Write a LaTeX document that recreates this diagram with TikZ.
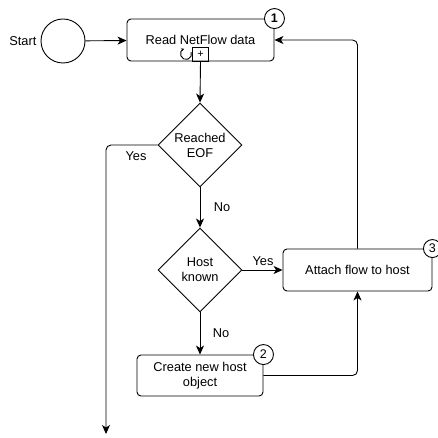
\documentclass[tikz,border=0pt]{standalone}
\usepackage{fontspec}
\setmainfont{Liberation Sans}
\usetikzlibrary{arrows.meta,positioning,calc,shapes.geometric}
\tikzset{
  task/.style={draw, line width=0.9pt, rounded corners=4pt, align=center,
               inner sep=2pt, font=\fontsize{12.8}{15}\selectfont},
  decision/.style={draw, line width=0.9pt, diamond, aspect=1, inner sep=0pt,
               minimum width=84pt, minimum height=84pt, align=center,
               font=\fontsize{12.8}{15}\selectfont},
  badge/.style={draw, fill=white, circle, line width=0.9pt, minimum size=20pt,
               inner sep=0pt, font=\fontsize{12.5}{12.5}\selectfont},
  flowlabel/.style={font=\fontsize{12.8}{15}\selectfont, inner sep=1pt},
  flowarrow/.style={-{Stealth[length=9pt,width=8pt,inset=2.5pt]}, line width=0.9pt,
               rounded corners=5pt}
}

\begin{document}
\begin{tikzpicture}[x=1pt,y=-1pt]
\useasboundingbox[fill=white] (0,0) rectangle (438,438);

% events and tasks
\node[draw, circle, line width=0.9pt, minimum size=44pt] (start) at (63,41) {};
\node[flowlabel, left=3pt of start] (startlbl) {Start};
\node[task, minimum width=147pt, minimum height=42pt] (read) at (200.5,40) {Read NetFlow data};
\node[decision] (eof) at (200,145) {Reached\\EOF};
\node[decision] (known) at (200,270) {Host\\known};
\node[task, minimum width=149pt, minimum height=42pt] (attach) at (357.5,270) {Attach flow to host};
\node[task, minimum width=126pt, minimum height=41pt] (create) at (200,375.5) {Create new host\\object};
\coordinate (done) at (106,434);

% markers
\node[badge, font=\bfseries\fontsize{12.5}{12.5}\selectfont] (b1) at (read.north east) {1};
\node[badge] (b2) at (create.north east) {2};
\node[badge, minimum size=18pt] (b3) at (attach.north east) {3};
\node[draw, line width=0.9pt, minimum width=16pt, minimum height=14pt, inner sep=0pt,
      anchor=south, font=\fontsize{11}{11}\selectfont] (plus) at (read.south) {+};
\draw[line width=0.9pt, -{Stealth[length=3pt,width=3pt]}]
  ($(plus.west)+(-6,0)$) ++(-20:5.5) arc[start angle=-20, end angle=250, radius=5.5];

% connectors
\draw[flowarrow] (start) -- (read);
\draw[flowarrow] (plus.south) -- (eof.north);
\draw[flowarrow] (eof.west) -| (done);
\draw[flowarrow] (eof.south) -- (known.north);
\draw[flowarrow] (known.east) -- (attach.west);
\draw[flowarrow] (known.south) -- (create.north);
\draw[flowarrow] (create.east) -| (attach.south);
\draw[flowarrow] (attach.north) |- (read.east);

% labels
\node[flowlabel] (yes1) at (136,156) {Yes};
\node[flowlabel] (no1) at (222,207) {No};
\node[flowlabel] (yes2) at (263,261) {Yes};
\node[flowlabel] (no2) at (221,333) {No};
\end{tikzpicture}
\end{document}
